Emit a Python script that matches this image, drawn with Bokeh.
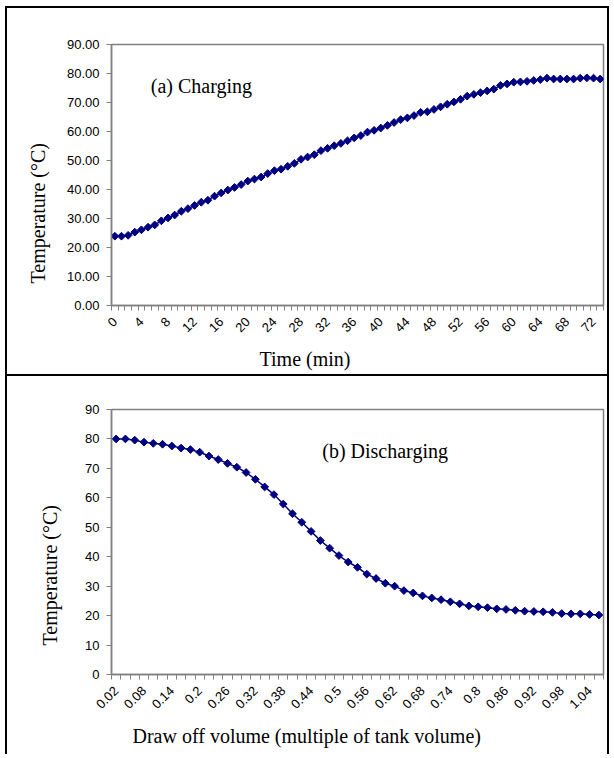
import numpy as np
from bokeh.plotting import figure
from bokeh.layouts import column
from bokeh.models import FixedTicker, NumeralTickFormatter, Label, Title
from bokeh.embed import file_html
from bokeh.resources import INLINE

# ---------------- data ----------------
charge_time = list(range(74))  # minutes (categories)
charge_temp = [23.9, 23.9, 24.2, 25.3, 26.1, 27.0, 27.8, 29.2, 30.2, 31.2,
               32.5, 33.4, 34.5, 35.6, 36.3, 37.7, 38.8, 39.8, 40.7, 41.7,
               42.9, 43.6, 44.3, 45.5, 46.5, 47.0, 48.0, 49.0, 50.4, 51.2,
               52.0, 53.4, 54.2, 55.1, 55.9, 56.8, 57.8, 58.6, 59.8, 60.4,
               61.2, 62.1, 63.1, 64.1, 64.7, 65.5, 66.6, 66.8, 67.6, 68.5,
               69.4, 70.2, 71.1, 72.2, 72.8, 73.4, 74.0, 74.6, 75.9, 76.4,
               77.0, 77.1, 77.3, 77.6, 77.9, 78.4, 78.1, 78.1, 78.1, 78.1,
               78.4, 78.5, 78.4, 78.1]

draw_volume = [0.02, 0.04, 0.06, 0.08, 0.10, 0.12, 0.14, 0.16, 0.18, 0.20,
               0.22, 0.24, 0.26, 0.28, 0.30, 0.32, 0.34, 0.36, 0.38, 0.40,
               0.42, 0.44, 0.46, 0.48, 0.50, 0.52, 0.54, 0.56, 0.58, 0.60,
               0.62, 0.64, 0.66, 0.68, 0.70, 0.72, 0.74, 0.76, 0.78, 0.80,
               0.82, 0.84, 0.86, 0.88, 0.90, 0.92, 0.94, 0.96, 0.98, 1.00,
               1.02, 1.04, 1.06]
discharge_temp = [80.0, 80.0, 79.6, 78.9, 78.5, 78.2, 77.6, 76.9, 76.4, 75.5,
                  74.2, 73.0, 71.7, 70.4, 68.6, 66.3, 63.7, 61.1, 57.9, 54.6,
                  51.7, 48.6, 45.5, 42.9, 40.4, 38.2, 36.4, 34.1, 32.6, 31.0,
                  30.0, 28.5, 27.7, 26.7, 26.0, 25.4, 24.7, 24.0, 23.3, 23.0,
                  22.7, 22.3, 22.1, 21.8, 21.5, 21.4, 21.3, 21.1, 20.7, 20.6,
                  20.6, 20.4, 20.2]

y_ticks = [0, 10, 20, 30, 40, 50, 60, 70, 80, 90]

NAVY = "#000080"
GRAY = "#808080"
SANS = "Liberation Sans"
SERIF = "Liberation Serif"


def style(p):
    p.grid.visible = False
    p.outline_line_color = GRAY
    p.outline_line_width = 1.5
    p.background_fill_color = "white"
    p.border_fill_color = "white"
    for ax in (p.xaxis[0], p.yaxis[0]):
        ax.axis_line_color = GRAY
        ax.axis_line_width = 1.5
        ax.major_tick_line_color = GRAY
        ax.minor_tick_line_color = GRAY
        ax.major_label_text_font = SANS
        ax.major_label_text_font_size = "13px"
        ax.major_label_text_color = "black"
    p.yaxis[0].ticker = FixedTicker(ticks=y_ticks, minor_ticks=[])
    p.yaxis[0].major_tick_out = 5
    p.yaxis[0].major_tick_in = 0
    p.yaxis[0].major_label_standoff = 7
    p.xaxis[0].major_tick_out = 0
    p.xaxis[0].major_tick_in = 0
    p.xaxis[0].minor_tick_out = 5
    p.xaxis[0].minor_tick_in = 0
    p.xaxis[0].major_label_orientation = np.pi / 4
    p.xaxis[0].major_label_standoff = 9


def in_label(p, x, y, txt):
    p.add_layout(Label(x=x, y=y, text=txt, text_font=SERIF, text_font_size="20px",
                       text_color="black", text_align="left", text_baseline="alphabetic"))


def side_title(p, txt, place, offset, standoff):
    p.add_layout(Title(text=txt, align="left", offset=offset, standoff=standoff,
                       text_font=SERIF, text_font_size="20px", text_font_style="normal",
                       text_color="black"), place)


# ---------------- (a) charging ----------------
n1 = len(charge_time)
p1 = figure(width=604, height=368, output_backend="svg", toolbar_location=None,
            x_range=(-0.5, n1 - 0.5), y_range=(0, 90),
            min_border_left=100, min_border_right=8, min_border_top=36, min_border_bottom=71)
style(p1)
p1.xaxis[0].ticker = FixedTicker(ticks=[i for i in range(n1) if charge_time[i] % 4 == 0],
                                 minor_ticks=[i - 0.5 for i in range(n1 + 1)])
p1.xaxis[0].major_label_overrides = {i: str(charge_time[i]) for i in range(n1)}
p1.yaxis[0].formatter = NumeralTickFormatter(format="0.00")
x1 = list(range(n1))
p1.line(x1, charge_temp, line_color=NAVY, line_width=1.5)
p1.scatter(x1, charge_temp, marker="square", angle=np.pi / 4, size=5.5,
           fill_color=NAVY, line_color=NAVY)
in_label(p1, 5.4, 75.6, "(a) Charging")
side_title(p1, "Time (min)", "below", 148, 12)
side_title(p1, "Temperature (°C)", "left", 22, 30)
p1.styles = {"border-top": "2px solid black", "border-left": "2px solid black",
             "border-right": "2px solid black", "margin-left": "5px", "margin-top": "6px"}

# ---------------- (b) discharging ----------------
n2 = len(draw_volume)
p2 = figure(width=604, height=380, output_backend="svg", toolbar_location=None,
            x_range=(-0.5, n2 - 0.5), y_range=(0, 90),
            min_border_left=104, min_border_right=6, min_border_top=33, min_border_bottom=82)
style(p2)
p2.xaxis[0].ticker = FixedTicker(ticks=[i for i in range(0, n2, 3)],
                                 minor_ticks=[i - 0.5 for i in range(n2 + 1)])
p2.xaxis[0].major_label_overrides = {i: f"{draw_volume[i]:g}" for i in range(n2)}
x2 = list(range(n2))
p2.line(x2, discharge_temp, line_color=NAVY, line_width=1.5)
p2.scatter(x2, discharge_temp, marker="square", angle=np.pi / 4, size=5.5,
           fill_color=NAVY, line_color=NAVY)
in_label(p2, 22.2, 75.9, "(b) Discharging")
side_title(p2, "Draw off volume (multiple of tank volume)", "below", 21, 14)
side_title(p2, "Temperature (°C)", "left", 29, 44)
p2.styles = {"border-top": "2px solid black", "border-left": "2px solid black",
             "border-right": "2px solid black", "margin-left": "5px"}

layout = column(p1, p2, spacing=0)
open("out.html", "w").write(file_html(layout, INLINE))
